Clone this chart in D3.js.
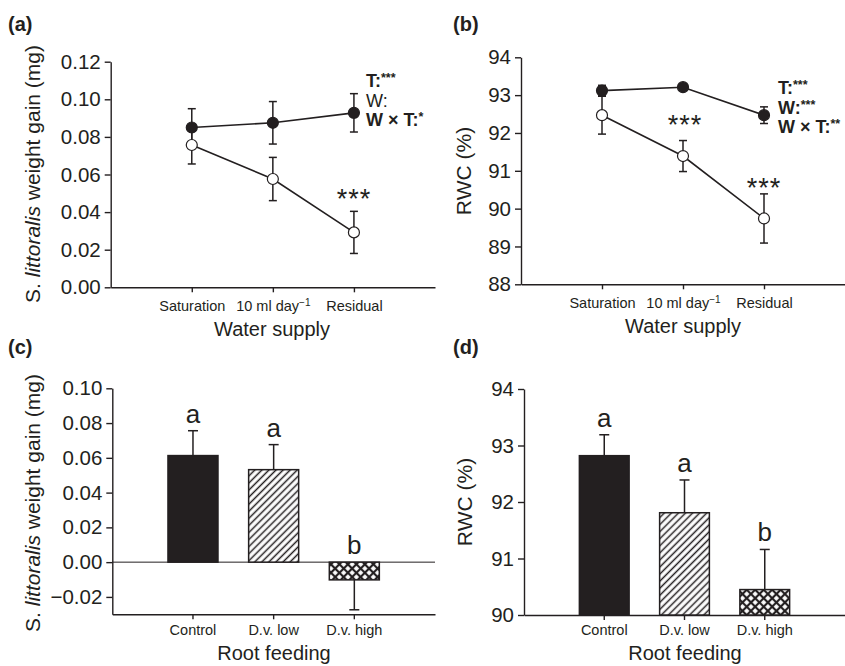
<!DOCTYPE html>
<html>
<head>
<meta charset="utf-8">
<title>weight gain and RWC</title>
<script src="https://cdn.jsdelivr.net/npm/d3@7"></script>
<style>
body { margin: 0; background: #fff; }
svg text { font-family: "Liberation Sans", Arial, sans-serif; fill: #231f20; }
</style>
</head>
<body>
<script>

// ---- data ----
// panels (a) and (b): water supply treatments
var waterLevels = ["Saturation", "10 ml day^\u22121", "Residual"];

var gainFilled    = [0.0850, 0.0875, 0.0928];
var gainFilledErr = [0.0100, 0.0113, 0.0102];
var gainOpen      = [0.0757, 0.0576, 0.0292];
var gainOpenErr   = [0.0101, 0.0115, 0.0112];

var rwcFilled    = [93.12, 93.21, 92.47];
var rwcFilledErr = [0.14, 0.07, 0.22];
var rwcOpen      = [92.47, 91.39, 89.74];
var rwcOpenErr   = [0.50, 0.41, 0.65];

// panels (c) and (d): root feeding treatments
var feedLevels = ["Control", "D.v. low", "D.v. high"];
var gainBars    = [0.0613, 0.0532, -0.0102];
var gainBarsErr = [0.0143, 0.0144, 0.0172];
var rwcBars     = [92.82, 91.81, 90.45];
var rwcBarsErr  = [0.37, 0.58, 0.71];
var barLetters  = ["a", "a", "b"];
var barFills    = ["solid", "hatch", "cross"];

// tick labels
var gainTicksA = [0, 0.02, 0.04, 0.06, 0.08, 0.10, 0.12];
var gainTicksC = [-0.02, 0, 0.02, 0.04, 0.06, 0.08, 0.10];
var rwcTicksB  = [88, 89, 90, 91, 92, 93, 94];
var rwcTicksD  = [90, 91, 92, 93, 94];

var ink = "#231f20";
var w = 845, h = 666;

var svg = d3.select("body").append("svg")
  .attr("width", w)
  .attr("height", h);

// fill patterns for the bars
var defs = svg.append("defs");
var hatch = defs.append("pattern")
  .attr("id", "hatch")
  .attr("patternUnits", "userSpaceOnUse")
  .attr("width", 5).attr("height", 5)
  .attr("patternTransform", "rotate(45)");
hatch.append("rect").attr("width", 5).attr("height", 5).attr("fill", "#fff");
hatch.append("line").attr("x1", 2.5).attr("x2", 2.5).attr("y1", 0).attr("y2", 5)
  .attr("stroke", ink).attr("stroke-width", 1.5);

var cross = defs.append("pattern")
  .attr("id", "cross")
  .attr("patternUnits", "userSpaceOnUse")
  .attr("width", 6).attr("height", 6)
  .attr("patternTransform", "rotate(45)");
cross.append("rect").attr("width", 6).attr("height", 6).attr("fill", "#fff");
cross.append("line").attr("x1", 3).attr("x2", 3).attr("y1", 0).attr("y2", 6)
  .attr("stroke", ink).attr("stroke-width", 2.2);
cross.append("line").attr("x1", 0).attr("x2", 6).attr("y1", 3).attr("y2", 3)
  .attr("stroke", ink).attr("stroke-width", 2.2);

// panel label like (a)
function panelLabel(txt, x, y) {
  svg.append("text").attr("x", x).attr("y", y)
    .attr("font-size", 20).attr("font-weight", "bold")
    .text(txt);
}

function styleAxis(g, size) {
  g.attr("color", ink).attr("font-size", size);
  g.selectAll("path, line").attr("stroke-width", 1.4);
}

function yAxis(p, y, ticks, fmt) {
  var g = svg.append("g")
    .attr("transform", "translate(" + p.x0 + ",0)")
    .call(d3.axisLeft(y).tickValues(ticks).tickFormat(fmt)
      .tickSize(6).tickSizeOuter(0).tickPadding(4));
  styleAxis(g, 20.5);
}

function xAxis(p, x, pad) {
  var g = svg.append("g")
    .attr("transform", "translate(0," + p.yBot + ")")
    .call(d3.axisBottom(x).tickSize(5).tickSizeOuter(0).tickPadding(pad));
  styleAxis(g, 14.5);
  // superscript for "day^-1"
  g.selectAll(".tick text").each(function(d) {
    var parts = d.split("^");
    if (parts.length > 1) {
      var t = d3.select(this).text(parts[0]);
      t.append("tspan").attr("dy", "-0.45em").attr("font-size", 10).text(parts[1]);
    }
  });
}

function yTitle(x, y, build) {
  var t = svg.append("text")
    .attr("transform", "translate(" + x + "," + y + ") rotate(-90)")
    .attr("text-anchor", "middle")
    .attr("font-size", 21);
  build(t);
}

function gainTitle(t) {
  t.append("tspan").text("S. ");
  t.append("tspan").attr("font-style", "italic").text("littoralis");
  t.append("tspan").text(" weight gain (mg)");
}

function xTitle(txt, x, y) {
  svg.append("text").attr("x", x).attr("y", y)
    .attr("text-anchor", "middle").attr("font-size", 20).text(txt);
}

// stats lines at the right of the line panels
function statsBlock(x, y, rows) {
  rows.forEach(function(r, i) {
    var t = svg.append("text").attr("x", x).attr("y", y + i * 19.5)
      .attr("font-size", 18).attr("font-weight", r.bold ? "bold" : "normal");
    t.append("tspan").text(r.label);
    t.append("tspan").attr("dy", -5).attr("font-size", 12.5).text(r.stars);
  });
}

function stars(x, y) {
  svg.append("text").attr("x", x).attr("y", y + 15)
    .attr("text-anchor", "middle").attr("font-size", 27)
    .attr("letter-spacing", 1)
    .text("***");
}

// ---- line panels ----
function linePanel(p, ticks, fmt, filled, filledErr, open, openErr) {
  var x = d3.scalePoint().domain(waterLevels).range([p.x0, p.x1]).padding(1);
  var y = d3.scaleLinear().domain(p.dom).range([p.yBot, p.yTop]);

  yAxis(p, y, ticks, fmt);
  xAxis(p, x, 8);

  var series = [
    { v: filled, e: filledErr, fill: ink },
    { v: open, e: openErr, fill: "#fff" }
  ];

  var line = d3.line()
    .x(function(d, i) { return x(waterLevels[i]); })
    .y(function(d) { return y(d); });

  series.forEach(function(s) {
    svg.append("path").datum(s.v)
      .attr("d", line)
      .attr("fill", "none")
      .attr("stroke", ink)
      .attr("stroke-width", 1.6);
  });

  series.forEach(function(s) {
    var g = svg.append("g").attr("stroke", ink).attr("stroke-width", 1.5);
    s.v.forEach(function(v, i) {
      var cx = x(waterLevels[i]);
      g.append("line").attr("x1", cx).attr("x2", cx)
        .attr("y1", y(v - s.e[i])).attr("y2", y(v + s.e[i]));
      [v - s.e[i], v + s.e[i]].forEach(function(c) {
        g.append("line").attr("x1", cx - 4).attr("x2", cx + 4)
          .attr("y1", y(c)).attr("y2", y(c));
      });
    });
  });

  series.forEach(function(s) {
    svg.append("g").selectAll("circle")
      .data(s.v)
      .enter()
      .append("circle")
      .attr("cx", function(d, i) { return x(waterLevels[i]); })
      .attr("cy", function(d) { return y(d); })
      .attr("r", 5.5)
      .attr("fill", s.fill)
      .attr("stroke", ink)
      .attr("stroke-width", 1.2);
  });

  return { x: x, y: y };
}

// ---- bar panels ----
function barPanel(p, ticks, fmt, vals, errs) {
  var x = d3.scaleBand().domain(feedLevels).range([p.x0, p.x1])
    .paddingInner(0.38).paddingOuter(0.69);
  var y = d3.scaleLinear().domain(p.dom).range([p.yBot, p.yTop]);

  yAxis(p, y, ticks, fmt);
  xAxis(p, x, 5);

  if (p.base > p.dom[0]) {
    svg.append("line").attr("x1", p.x0).attr("x2", p.x1)
      .attr("y1", y(p.base)).attr("y2", y(p.base))
      .attr("stroke", ink).attr("stroke-width", 1);
  }

  vals.forEach(function(v, i) {
    var cx = x(feedLevels[i]) + x.bandwidth() / 2;
    var tip = v >= p.base ? v + errs[i] : v - errs[i];
    svg.append("line").attr("x1", cx).attr("x2", cx)
      .attr("y1", y(v)).attr("y2", y(tip))
      .attr("stroke", ink).attr("stroke-width", 1.5);
    svg.append("line").attr("x1", cx - 5).attr("x2", cx + 5)
      .attr("y1", y(tip)).attr("y2", y(tip))
      .attr("stroke", ink).attr("stroke-width", 1.5);
  });

  svg.append("g").selectAll("rect")
    .data(vals)
    .enter()
    .append("rect")
    .attr("x", function(d, i) { return x(feedLevels[i]); })
    .attr("y", function(d) { return y(Math.max(d, p.base)); })
    .attr("width", x.bandwidth())
    .attr("height", function(d) { return Math.abs(y(d) - y(p.base)); })
    .attr("fill", function(d, i) {
      return barFills[i] === "solid" ? ink : "url(#" + barFills[i] + ")";
    })
    .attr("stroke", ink)
    .attr("stroke-width", 1.5);

  svg.append("g").selectAll("text")
    .data(vals)
    .enter()
    .append("text")
    .attr("x", function(d, i) { return x(feedLevels[i]) + x.bandwidth() / 2; })
    .attr("y", function(d, i) {
      var top = d >= p.base ? d + errs[i] : p.base;
      return y(top) - 8;
    })
    .attr("text-anchor", "middle")
    .attr("font-size", 26)
    .text(function(d, i) { return barLetters[i]; });
}

// (a)
var pa = { x0: 110.7, x1: 435, yTop: 61.7, yBot: 287.3, dom: [0, 0.12] };
var sa = linePanel(pa, gainTicksA, d3.format(".2f"), gainFilled, gainFilledErr, gainOpen, gainOpenErr);
panelLabel("(a)", 8, 31);
yTitle(40, 174, gainTitle);
xTitle("Water supply", 272, 336);
stars(sa.x("Residual"), sa.y(0.0502));
statsBlock(366, 87, [
  { label: "T:", stars: "***", bold: true },
  { label: "W:", stars: "", bold: false },
  { label: "W \u00d7 T:", stars: "*", bold: true }
]);

// (b)
var pb = { x0: 521, x1: 845, yTop: 57.3, yBot: 284.3, dom: [88, 94] };
var sb = linePanel(pb, rwcTicksB, d3.format("d"), rwcFilled, rwcFilledErr, rwcOpen, rwcOpenErr);
panelLabel("(b)", 453, 31);
yTitle(471, 171, function(t) { t.text("RWC (%)"); });
xTitle("Water supply", 683, 333);
stars(sb.x(waterLevels[1]) + 2, sb.y(92.37));
stars(sb.x("Residual"), sb.y(90.71));
statsBlock(778, 94, [
  { label: "T:", stars: "***", bold: true },
  { label: "W:", stars: "***", bold: true },
  { label: "W \u00d7 T:", stars: "**", bold: true }
]);

// (c)
var pc = { x0: 112.3, x1: 435, yTop: 388.3, yBot: 614.3, dom: [-0.03, 0.10], base: 0 };
barPanel(pc, gainTicksC, d3.format(".2f"), gainBars, gainBarsErr);
panelLabel("(c)", 8, 354);
yTitle(40, 503, gainTitle);
xTitle("Root feeding", 274, 660);

// (d)
var pd = { x0: 524, x1: 845, yTop: 389, yBot: 615, dom: [90, 94], base: 90 };
barPanel(pd, rwcTicksD, d3.format("d"), rwcBars, rwcBarsErr);
panelLabel("(d)", 453, 354);
yTitle(472, 502, function(t) { t.text("RWC (%)"); });
xTitle("Root feeding", 685, 660);

</script>
</body>
</html>
